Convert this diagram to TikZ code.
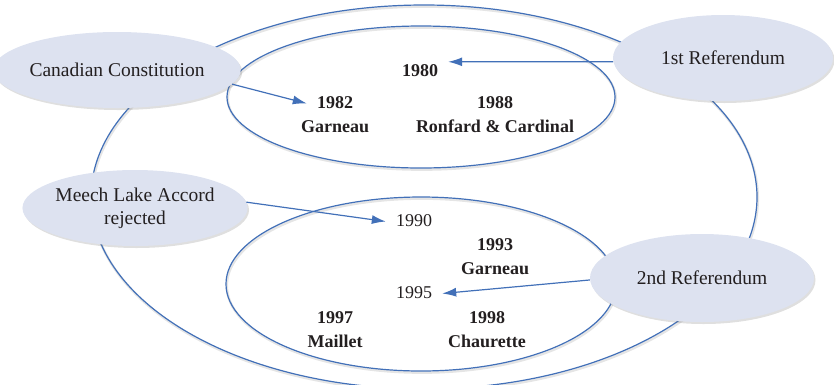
\documentclass[tikz,border=0pt]{standalone}
\usepackage{fontspec}
\setmainfont{Liberation Serif}
\usepackage{tikz}
\usetikzlibrary{arrows.meta,positioning,shapes.geometric,shadows}

\definecolor{ringBlue}{RGB}{66,112,184}
\definecolor{bubbleFill}{RGB}{221,226,240}
\definecolor{inkGray}{RGB}{35,31,32}

\begin{document}
\begin{tikzpicture}[
  x=1pt, y=-1pt,
  >={Latex[length=14pt,width=9pt]},
  node distance=5pt,
  ring/.style={draw=ringBlue, line width=1.2pt, ellipse, inner sep=0pt, preaction={draw=black!10, line width=2.5pt, transform canvas={shift={(0.8pt,-1.6pt)}}}},
  bubble/.style={ellipse, fill=bubbleFill, inner sep=0pt, align=center, text=inkGray, font=\fontsize{19.5}{23}\selectfont, drop shadow={shadow xshift=1.5pt, shadow yshift=-2pt, opacity=0.25}},
  year/.style={font=\fontsize{18}{22}\selectfont\bfseries, text=inkGray, inner xsep=10pt, inner ysep=1pt, text height=13pt, text depth=4pt},
  plainyear/.style={year, font=\fontsize{18}{22}\selectfont},
  author/.style={year},
  arrow/.style={->, draw=ringBlue, line width=1.2pt}
]
\useasboundingbox (0,0) rectangle (834,384);

\node[ring, minimum width=666pt, minimum height=384pt] (outerRing) at (424,197) {};
\node[ring, minimum width=388pt, minimum height=142pt] (topRing) at (421,97) {};
\node[ring, minimum width=390pt, minimum height=174pt] (bottomRing) at (421,284) {};

\node[year, anchor=base] (y1980) at (420,76) {1980};
\node[year, anchor=base] (y1982) at (335,108) {1982};
\node[author, below=5pt of y1982] (n1982) {Garneau};
\node[year, anchor=base] (y1988) at (495,108) {1988};
\node[author, below=5pt of y1988] (n1988) {Ronfard \& Cardinal};

\node[plainyear, anchor=base] (y1990) at (414,226) {1990};
\node[year, anchor=base] (y1993) at (495,250) {1993};
\node[author, below=5pt of y1993] (n1993) {Garneau};
\node[plainyear, anchor=base] (y1995) at (414,298) {1995};
\node[year, anchor=base] (y1997) at (335,323) {1997};
\node[author, below=5pt of y1997] (n1997) {Maillet};
\node[year, anchor=base] (y1998) at (487,323) {1998};
\node[author, below=5pt of y1998] (n1998) {Chaurette};

\node[bubble, minimum width=226pt, minimum height=76pt] (canCon) at (117,70) {Canadian Constitution};
\node[bubble, minimum width=220pt, minimum height=86pt] (refOne) at (723,58) {1st Referendum};
\node[bubble, minimum width=224pt, minimum height=76pt] (meech) at (135,208) {Meech Lake Accord\\rejected};
\node[bubble, minimum width=224pt, minimum height=88pt] (refTwo) at (702,278) {2nd Referendum};

\draw[arrow] (canCon.-7) -- (y1982.west);
\draw[arrow] (refOne.182) -- (y1980.north east);
\draw[arrow] (meech.3) -- (y1990.west);
\draw[arrow] (refTwo.181) -- (y1995.east);

\end{tikzpicture}
\end{document}
